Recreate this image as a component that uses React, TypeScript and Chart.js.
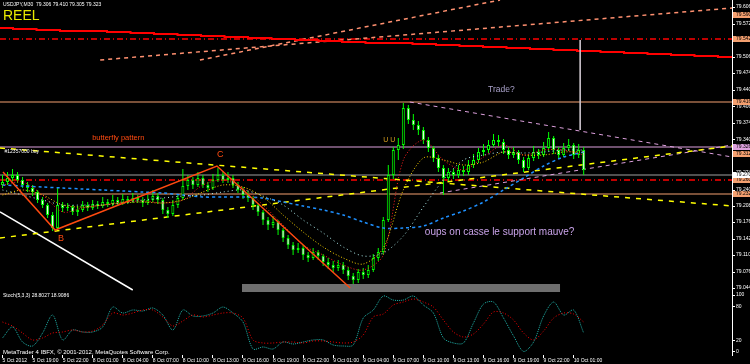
import React, { useEffect, useRef } from "react";
import { Chart, registerables } from "chart.js";

Chart.register(...registerables);

// ---------------- data ----------------
const X_MIN = -0.5;
const X_MAX = 145.6;
const PRICE_MIN = 79.036;
const PRICE_MAX = 79.62;

const candleOpen = [
  79.250, 79.256, 79.264, 79.270, 79.260, 79.250, 79.244, 79.236, 79.220, 79.210,
  79.190, 79.164, 79.210, 79.204, 79.206, 79.196, 79.200, 79.210, 79.204, 79.212,
  79.208, 79.216, 79.212, 79.220, 79.214, 79.222, 79.218, 79.224, 79.220, 79.214,
  79.220, 79.228, 79.220, 79.200, 79.192, 79.210, 79.224, 79.248, 79.260, 79.250,
  79.264, 79.250, 79.244, 79.260, 79.270, 79.260, 79.264, 79.250, 79.240, 79.230,
  79.224, 79.210, 79.196, 79.180, 79.170, 79.176, 79.160, 79.144, 79.130, 79.120,
  79.124, 79.110, 79.104, 79.116, 79.108, 79.096, 79.090, 79.084, 79.090, 79.080,
  79.068, 79.060, 79.076, 79.070, 79.080, 79.104, 79.116, 79.180, 79.270, 79.320,
  79.330, 79.404, 79.380, 79.370, 79.360, 79.340, 79.324, 79.304, 79.284, 79.264,
  79.276, 79.270, 79.280, 79.276, 79.290, 79.300, 79.316, 79.320, 79.330, 79.340,
  79.336, 79.320, 79.310, 79.316, 79.300, 79.284, 79.304, 79.316, 79.310, 79.324,
  79.344, 79.320, 79.310, 79.324, 79.330, 79.310, 79.320,
];
const candleClose = [
  79.256, 79.264, 79.270, 79.260, 79.250, 79.244, 79.236, 79.220, 79.210, 79.190,
  79.164, 79.210, 79.204, 79.206, 79.196, 79.200, 79.210, 79.204, 79.212, 79.208,
  79.216, 79.212, 79.220, 79.214, 79.222, 79.218, 79.224, 79.220, 79.214, 79.220,
  79.228, 79.220, 79.200, 79.192, 79.210, 79.224, 79.248, 79.260, 79.250, 79.264,
  79.250, 79.244, 79.260, 79.270, 79.260, 79.264, 79.250, 79.240, 79.230, 79.224,
  79.210, 79.196, 79.180, 79.170, 79.176, 79.160, 79.144, 79.130, 79.120, 79.124,
  79.110, 79.104, 79.116, 79.108, 79.096, 79.090, 79.084, 79.090, 79.080, 79.068,
  79.060, 79.076, 79.070, 79.080, 79.104, 79.116, 79.180, 79.270, 79.320, 79.330,
  79.404, 79.380, 79.370, 79.360, 79.340, 79.324, 79.304, 79.284, 79.264, 79.276,
  79.270, 79.280, 79.276, 79.290, 79.300, 79.316, 79.320, 79.330, 79.340, 79.336,
  79.320, 79.310, 79.316, 79.300, 79.284, 79.304, 79.316, 79.310, 79.324, 79.344,
  79.320, 79.310, 79.324, 79.330, 79.310, 79.320, 79.280,
];
const candleHigh = [
  79.270, 79.276, 79.282, 79.276, 79.266, 79.256, 79.250, 79.240, 79.226, 79.214,
  79.196, 79.244, 79.216, 79.214, 79.210, 79.208, 79.218, 79.216, 79.220, 79.218,
  79.226, 79.222, 79.230, 79.226, 79.232, 79.228, 79.234, 79.230, 79.226, 79.230,
  79.240, 79.234, 79.224, 79.206, 79.220, 79.232, 79.282, 79.270, 79.266, 79.276,
  79.270, 79.256, 79.272, 79.284, 79.278, 79.276, 79.270, 79.256, 79.246, 79.238,
  79.228, 79.214, 79.200, 79.186, 79.188, 79.180, 79.164, 79.150, 79.136, 79.134,
  79.130, 79.116, 79.124, 79.120, 79.112, 79.104, 79.098, 79.100, 79.096, 79.086,
  79.074, 79.082, 79.084, 79.090, 79.112, 79.124, 79.186, 79.290, 79.326, 79.344,
  79.414, 79.410, 79.392, 79.378, 79.366, 79.346, 79.328, 79.310, 79.290, 79.284,
  79.282, 79.290, 79.288, 79.300, 79.312, 79.324, 79.332, 79.340, 79.352, 79.350,
  79.342, 79.326, 79.326, 79.320, 79.306, 79.312, 79.328, 79.322, 79.336, 79.356,
  79.348, 79.326, 79.334, 79.342, 79.334, 79.332, 79.326,
];
const candleLow = [
  79.244, 79.250, 79.258, 79.254, 79.244, 79.236, 79.228, 79.214, 79.204, 79.184,
  79.158, 79.160, 79.196, 79.198, 79.190, 79.188, 79.196, 79.198, 79.200, 79.202,
  79.204, 79.206, 79.208, 79.208, 79.210, 79.212, 79.214, 79.214, 79.206, 79.210,
  79.216, 79.212, 79.192, 79.184, 79.188, 79.204, 79.220, 79.240, 79.242, 79.246,
  79.244, 79.236, 79.240, 79.256, 79.254, 79.254, 79.244, 79.234, 79.222, 79.216,
  79.200, 79.188, 79.170, 79.160, 79.164, 79.150, 79.136, 79.122, 79.110, 79.114,
  79.100, 79.096, 79.100, 79.100, 79.088, 79.082, 79.076, 79.078, 79.072, 79.060,
  79.052, 79.054, 79.062, 79.064, 79.076, 79.098, 79.110, 79.176, 79.262, 79.300,
  79.322, 79.372, 79.360, 79.350, 79.332, 79.316, 79.296, 79.276, 79.230, 79.258,
  79.262, 79.264, 79.268, 79.270, 79.284, 79.294, 79.308, 79.314, 79.326, 79.326,
  79.312, 79.302, 79.304, 79.292, 79.276, 79.280, 79.298, 79.302, 79.306, 79.318,
  79.312, 79.302, 79.306, 79.318, 79.302, 79.304, 79.270,
];

// moving averages, one value every MA_STEP candles
const MA_STEP = 4;
const maFast = [
  79.250, 79.256, 79.230, 79.196, 79.204, 79.210, 79.216, 79.218, 79.214, 79.220,
  79.250, 79.260, 79.244, 79.210, 79.170, 79.130, 79.110, 79.090, 79.080, 79.110,
  79.300, 79.340, 79.300, 79.280, 79.306, 79.330, 79.310, 79.320, 79.320, 79.310,
];
const maMid = [
  79.230, 79.240, 79.230, 79.210, 79.206, 79.210, 79.214, 79.216, 79.214, 79.220,
  79.236, 79.250, 79.246, 79.226, 79.190, 79.156, 79.126, 79.104, 79.092, 79.124,
  79.240, 79.304, 79.300, 79.290, 79.296, 79.316, 79.310, 79.310, 79.316, 79.316,
];
const maSlow = [
  79.240, 79.230, 79.220, 79.210, 79.210, 79.210, 79.214, 79.220, 79.224, 79.228,
  79.230, 79.236, 79.240, 79.228, 79.210, 79.180, 79.154, 79.126, 79.108, 79.114,
  79.148, 79.206, 79.260, 79.300, 79.310, 79.316, 79.314, 79.316, 79.320, 79.320,
];
const maLong = [
  79.250, 79.248, 79.246, 79.244, 79.242, 79.240, 79.238, 79.236, 79.234, 79.230,
  79.226, 79.226, 79.226, 79.224, 79.216, 79.208, 79.200, 79.190, 79.176, 79.164,
  79.164, 79.168, 79.184, 79.198, 79.216, 79.240, 79.264, 79.288, 79.306, 79.316,
];

// stochastic oscillator, one value every OSC_STEP candles
const OSC_STEP = 2;
const stochMain = [
  24.6, 43.9, 17.5, 10.5, 33.3, 64.9, 21.1, 38.6, 35.1, 35.1,
  43.9, 78.9, 68.4, 73.7, 71.9, 77.2, 64.9, 38.6, 73.7, 63.2,
  63.2, 68.4, 78.9, 68.4, 52.6, 5.3, 8.8, 5.3, 17.5, 14.0,
  17.5, 21.1, 21.1, 12.3, 10.5, 12.3, 59.6, 73.7, 98.2, 91.2,
  91.2, 98.2, 82.5, 68.4, 24.6, 15.8, 15.8, 50.9, 84.2, 87.7,
  59.6, 28.1, 1.0, 17.5, 63.2, 87.7, 64.9, 73.7, 33.3,
];
const stochSignal = [
  52.6, 45.6, 33.3, 21.1, 24.6, 33.3, 35.1, 38.6, 35.1, 36.8,
  47.4, 68.4, 64.9, 68.4, 73.7, 73.7, 61.4, 45.6, 54.4, 64.9,
  61.4, 64.9, 68.4, 68.4, 59.6, 21.1, 15.8, 15.8, 17.5, 17.5,
  15.8, 19.3, 19.3, 17.5, 15.8, 17.5, 29.8, 61.4, 66.7, 82.5,
  87.7, 93.0, 87.7, 78.9, 56.1, 35.1, 26.3, 31.6, 49.1, 70.2,
  68.4, 56.1, 33.3, 21.1, 36.8, 59.6, 68.4, 66.7, 52.6,
];
const OSC_MIN = -5.3;
const OSC_MAX = 105.3;
const oscTicks = [0, 20, 80, 100];

const priceTicks = [
  79.606, 79.572, 79.540, 79.506, 79.474, 79.440, 79.406, 79.374, 79.340,
  79.308, 79.274, 79.240, 79.208, 79.176, 79.142, 79.110, 79.076, 79.044,
];

const TIME_STEP = 6;
const timeLabels = [
  "5 Oct 2012", "5 Oct 19:00", "5 Oct 22:00", "8 Oct 01:00", "8 Oct 04:00",
  "8 Oct 07:00", "8 Oct 10:00", "8 Oct 13:00", "8 Oct 16:00", "8 Oct 19:00",
  "8 Oct 22:00", "9 Oct 01:00", "9 Oct 04:00", "9 Oct 07:00", "9 Oct 10:00",
  "9 Oct 13:00", "9 Oct 16:00", "9 Oct 19:00", "9 Oct 22:00", "10 Oct 01:00",
];

// higher-timeframe stepped level (red)
const htfStart = 2.1;
const htfSpan = 4.69;
const htfLevels = [
  79.564, 79.562, 79.560, 79.558, 79.558, 79.556, 79.554, 79.552, 79.550, 79.548,
  79.546, 79.544, 79.542, 79.540, 79.538, 79.536, 79.534, 79.534, 79.532, 79.530,
  79.528, 79.526, 79.524, 79.522, 79.520, 79.518, 79.516, 79.514, 79.512, 79.510,
  79.508, 79.506,
];

// horizontal levels
const hLevels = [79.542, 79.416, 79.326, 79.270, 79.260, 79.232];

// trend lines: [index, price] end points
const trendYellowHigh = [[-0.5, 79.324], [145.6, 79.208]];
const trendYellowLow = [[-0.5, 79.144], [145.6, 79.328]];
const trendPlumFall = [[81.3, 79.416], [145.6, 79.306]];
const trendPlumRise = [[87.3, 79.234], [145.6, 79.330]];
const trendWhite = [[-0.5, 79.196], [26.0, 79.040]];
const trendSalmonA = [[19.5, 79.500], [145.6, 79.604]];
const trendSalmonB = [[39.4, 79.500], [99.3, 79.620]];
const tradeMarker = [[115.3, 79.540], [115.3, 79.360]];

// butterfly pattern zigzag X-B-C-D
const butterflyIdx = [0.1, 10.5, 42.8, 69.4];
const butterflyPrice = [79.276, 79.160, 79.288, 79.044];

// grey rectangle
const rectIdx = [47.8, 111.3];
const rectPrice = [79.052, 79.038];

// text notes anchored at [index, price]
const noteTexts = [
  "butterfly pattern", "C", "B", "Trade?",
  "oups on casse le support mauve?", "U U", "#12357000 buy",
];
const noteIdx = [17.9, 42.8, 11.1, 96.9, 84.3, 76.0, 0.4];
const notePrice = [79.344, 79.310, 79.142, 79.440, 79.156, 79.340, 79.316];

// price labels on the right axis
const boxPrices = [79.590, 79.542, 79.416, 79.326, 79.312, 79.260, 79.232, 79.270];

const headerText = "USDJPY,M30  79.306 79.410 79.305 79.323";
const oscHeaderText = "Stoch(5,3,3) 28.8027 18.9086";
const footerText = "MetaTrader 4 IBFX, \u00A9 2001-2012, MetaQuotes Software Corp.";

// ---------------- styles ----------------
const FONT = '"Liberation Sans", Arial, sans-serif';
const noteColors = ["#ff4a10", "#ff4a10", "#ff4a10", "#a8a0c8", "#c8a2e8", "#d8a020", "#ffffff"];
const noteFonts = [
  `7.5px ${FONT}`, `9px ${FONT}`, `9px ${FONT}`, `8.5px ${FONT}`,
  `10px ${FONT}`, `7px ${FONT}`, `5px ${FONT}`,
];
const boxColors = ["#f4a070", "#f4a070", "#f4a070", "#dda0dd", "#f4a070", "#f4a070", "#f4a070", "#ffffff"];
const hStyles = [
  { color: "#ff0000", width: 1.5, dash: [6, 3, 1, 3] },
  { color: "#f4a070", width: 1, dash: [] },
  { color: "#dda0dd", width: 1, dash: [] },
  { color: "#a0a0a0", width: 1, dash: [] },
  { color: "#ff0000", width: 1.5, dash: [6, 3, 1, 3] },
  { color: "#f4a070", width: 1, dash: [] },
];

const zeroPad = (s: any) => {
  s.paddingTop = 0;
  s.paddingBottom = 0;
  s.paddingLeft = 0;
  s.paddingRight = 0;
};

const toPts = (pairs: number[][]) => pairs.map((p) => ({ x: p[0], y: p[1] }));

const lineDs = (data: any[], color: string, width: number, dash: number[], order: number, extra: any = {}) => ({
  type: "line",
  data,
  borderColor: color,
  borderWidth: width,
  borderDash: dash,
  pointRadius: 0,
  fill: false,
  tension: 0,
  order,
  ...extra,
});

const mainTextPlugin = {
  id: "mainText",
  afterDatasetsDraw(chart: any) {
    const { ctx } = chart;
    const xs = chart.scales.x;
    const ys = chart.scales.y;
    ctx.save();
    ctx.textAlign = "left";
    ctx.textBaseline = "middle";
    noteTexts.forEach((t, i) => {
      ctx.fillStyle = noteColors[i];
      ctx.font = noteFonts[i];
      ctx.fillText(t, xs.getPixelForValue(noteIdx[i]), ys.getPixelForValue(notePrice[i]));
    });
    ctx.fillStyle = "#ffffff";
    ctx.font = `5px ${FONT}`;
    ctx.fillText(headerText, 3, 5);
    ctx.fillStyle = "#e8e800";
    ctx.font = `14px "Liberation Sans Narrow", ${FONT}`;
    ctx.fillText("REEL", 3, 16);
    ctx.restore();
  },
  afterDraw(chart: any) {
    const { ctx } = chart;
    const ys = chart.scales.y;
    ctx.save();
    ctx.font = `5px ${FONT}`;
    ctx.textAlign = "left";
    ctx.textBaseline = "middle";
    boxPrices.forEach((p, i) => {
      const py = ys.getPixelForValue(p);
      ctx.fillStyle = boxColors[i];
      ctx.fillRect(ys.left + 1, py - 3, ys.right - ys.left - 1, 6);
      ctx.fillStyle = "#000000";
      ctx.fillText(p.toFixed(3), ys.left + 4, py);
    });
    ctx.restore();
  },
};

const oscTextPlugin = {
  id: "oscText",
  afterDraw(chart: any) {
    const { ctx } = chart;
    ctx.save();
    ctx.textAlign = "left";
    ctx.textBaseline = "middle";
    ctx.fillStyle = "#ffffff";
    ctx.font = `5px ${FONT}`;
    ctx.fillText(oscHeaderText, 3, 4);
    ctx.font = `6px ${FONT}`;
    ctx.fillText(footerText, 3, 60);
    ctx.restore();
  },
};

export default function App() {
  const mainRef = useRef<HTMLCanvasElement | null>(null);
  const oscRef = useRef<HTMLCanvasElement | null>(null);

  useEffect(() => {
    document.body.style.margin = "0";
    document.body.style.background = "#000";

    const wickData = candleHigh.map((h, i) => ({ x: i, y: [candleLow[i], h] }));
    const bodyData = candleOpen.map((o, i) => ({ x: i, y: [o, candleClose[i]] }));
    const bodyColors = candleOpen.map((o, i) => (candleClose[i] < o ? "#ffffff" : "#000000"));

    const maPts = (arr: number[]) => arr.map((v, k) => ({ x: k * MA_STEP, y: v }));
    const htfPts = htfLevels.map((v, k) => ({ x: k === 0 ? X_MIN : htfStart + htfSpan * (k - 1), y: v }));
    htfPts.push({ x: X_MAX, y: htfLevels[htfLevels.length - 1] });

    const datasets: any[] = [];
    // grey rectangle
    datasets.push(
      lineDs(
        [{ x: rectIdx[0], y: rectPrice[0] }, { x: rectIdx[1], y: rectPrice[0] }],
        "rgba(0,0,0,0)", 0, [], 100,
        { fill: { value: rectPrice[1] - 0.002 }, backgroundColor: "#6e6e6e" }
      )
    );
    hLevels.forEach((p, i) => {
      const s = hStyles[i];
      datasets.push(lineDs([{ x: X_MIN, y: p }, { x: X_MAX, y: p }], s.color, s.width, s.dash, 90));
    });
    datasets.push(lineDs(toPts(trendYellowHigh), "#ffff00", 1.5, [5, 6], 80));
    datasets.push(lineDs(toPts(trendYellowLow), "#ffff00", 1.5, [5, 6], 80));
    datasets.push(lineDs(toPts(trendPlumFall), "#dda0dd", 1, [4, 4], 80));
    datasets.push(lineDs(toPts(trendPlumRise), "#dda0dd", 1, [4, 4], 80));
    datasets.push(lineDs(toPts(trendSalmonA), "#ff9070", 1.5, [4, 4], 80));
    datasets.push(lineDs(toPts(trendSalmonB), "#ff9070", 1.5, [4, 4], 80));
    datasets.push(lineDs(toPts(trendWhite), "#ffffff", 1.5, [], 80));
    datasets.push(lineDs(htfPts, "#ff0000", 2, [], 75, { stepped: true }));
    // candles
    datasets.push({
      type: "bar",
      data: wickData,
      backgroundColor: "#00ff00",
      borderWidth: 0,
      barThickness: 1,
      grouped: false,
      inflateAmount: 0,
      order: 71,
    });
    datasets.push({
      type: "bar",
      data: bodyData,
      backgroundColor: bodyColors,
      borderColor: "#00ff00",
      borderWidth: 1,
      borderSkipped: false,
      barThickness: 3,
      minBarLength: 1,
      grouped: false,
      inflateAmount: 0,
      order: 70,
    });
    // moving averages
    datasets.push(lineDs(maPts(maLong), "#1e90ff", 1.5, [3, 3], 63, { tension: 0.3 }));
    datasets.push(lineDs(maPts(maSlow), "#b0f0f0", 1, [1, 3], 62, { tension: 0.3 }));
    datasets.push(lineDs(maPts(maMid), "#ffd700", 1, [1, 2], 61, { tension: 0.3 }));
    datasets.push(lineDs(maPts(maFast), "#ff2020", 1, [1, 2], 60, { tension: 0.3 }));
    // butterfly zigzag
    datasets.push(
      lineDs(butterflyIdx.map((x, i) => ({ x, y: butterflyPrice[i] })), "#ff4a10", 1.5, [], 55)
    );
    datasets.push(lineDs(toPts(tradeMarker), "#c8c0c8", 1, [], 40));

    const mainChart = new Chart(mainRef.current as HTMLCanvasElement, {
      type: "bar",
      data: { datasets },
      options: {
        responsive: false,
        animation: false,
        events: [],
        layout: { padding: 0 },
        plugins: { legend: { display: false }, tooltip: { enabled: false } },
        scales: {
          x: { type: "linear", min: X_MIN, max: X_MAX, display: false, offset: false },
          y: {
            position: "right",
            min: PRICE_MIN,
            max: PRICE_MAX,
            afterFit: (s: any) => {
              s.width = 18;
              zeroPad(s);
            },
            afterBuildTicks: (s: any) => {
              s.ticks = priceTicks.map((v) => ({ value: v }));
            },
            border: { display: true, color: "#ffffff", width: 1 },
            grid: { display: true, drawOnChartArea: false, drawTicks: true, tickLength: 3, color: "#ffffff" },
            ticks: {
              color: "#ffffff",
              font: { size: 5, family: FONT },
              padding: 1,
              callback: (v: any) => Number(v).toFixed(3),
            },
          },
        },
      } as any,
      plugins: [mainTextPlugin],
    } as any);

    const oscChart = new Chart(oscRef.current as HTMLCanvasElement, {
      type: "line",
      data: {
        datasets: [
          {
            data: stochSignal.map((v, k) => ({ x: k * OSC_STEP, y: v })),
            borderColor: "#ff0000",
            borderWidth: 1,
            borderDash: [1, 2],
            pointRadius: 0,
            tension: 0.3,
          },
          {
            data: stochMain.map((v, k) => ({ x: k * OSC_STEP, y: v })),
            borderColor: "#20b2aa",
            borderWidth: 1,
            borderDash: [1, 1],
            pointRadius: 0,
            tension: 0.3,
          },
        ],
      },
      options: {
        responsive: false,
        animation: false,
        events: [],
        layout: { padding: 0 },
        plugins: { legend: { display: false }, tooltip: { enabled: false } },
        scales: {
          x: {
            type: "linear",
            min: X_MIN,
            max: X_MAX,
            afterFit: (s: any) => {
              s.height = 9;
              zeroPad(s);
            },
            afterBuildTicks: (s: any) => {
              s.ticks = timeLabels.map((_, k) => ({ value: k * TIME_STEP }));
            },
            border: { display: false },
            grid: { display: true, drawOnChartArea: false, drawTicks: true, tickLength: 3, color: "#ffffff" },
            ticks: {
              color: "#ffffff",
              font: { size: 5, family: FONT },
              padding: 0,
              align: "start",
              maxRotation: 0,
              autoSkip: false,
              callback: (_v: any, i: number) => timeLabels[i],
            },
          },
          y: {
            position: "right",
            min: OSC_MIN,
            max: OSC_MAX,
            afterFit: (s: any) => {
              s.width = 18;
              zeroPad(s);
            },
            afterBuildTicks: (s: any) => {
              s.ticks = oscTicks.map((v) => ({ value: v }));
            },
            border: { display: true, color: "#ffffff", width: 1 },
            grid: { display: true, drawOnChartArea: false, drawTicks: true, tickLength: 3, color: "#ffffff" },
            ticks: {
              color: "#ffffff",
              font: { size: 5, family: FONT },
              padding: 1,
              callback: (v: any) => String(v),
            },
          },
        },
      } as any,
      plugins: [oscTextPlugin],
    } as any);

    return () => {
      mainChart.destroy();
      oscChart.destroy();
    };
  }, []);

  return (
    <div
      style={{
        position: "fixed",
        left: 0,
        top: 0,
        width: 750,
        height: 364,
        background: "#000",
        overflow: "hidden",
      }}
    >
      <canvas ref={mainRef} width={750} height={292} style={{ position: "absolute", left: 0, top: 0, display: "block" }} />
      <canvas ref={oscRef} width={750} height={72} style={{ position: "absolute", left: 0, top: 292, display: "block" }} />
    </div>
  );
}
